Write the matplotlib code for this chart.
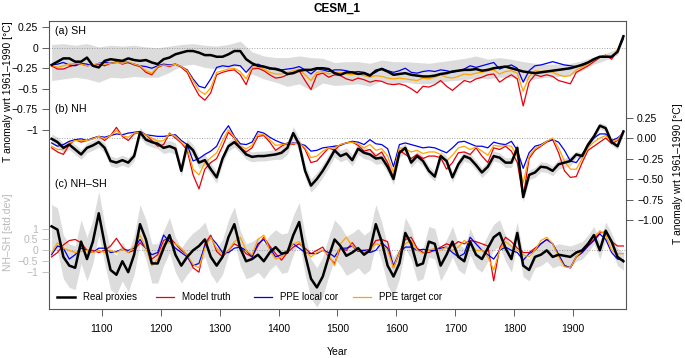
"""CESM_1: SH, NH and NH-SH temperature reconstructions"""
import numpy as np
import matplotlib
matplotlib.use('Agg')
import matplotlib.pyplot as plt
from matplotlib.lines import Line2D

plt.rcParams['font.family'] = ['Liberation Sans', 'DejaVu Sans']
plt.rcParams['font.size'] = 7.5

W, H = 685, 358

# ---- data, decadal points 1015..1985 ----
years = np.arange(1015, 1990, 10)

sh_real = [-0.21, -0.17, -0.13, -0.13, -0.17, -0.17, -0.12, -0.22, -0.24, -0.16,
           -0.14, -0.15, -0.16, -0.13, -0.15, -0.16, -0.15, -0.18, -0.20, -0.14,
           -0.12, -0.08, -0.06, -0.04, -0.04, -0.06, -0.09, -0.09, -0.11, -0.11,
           -0.08, -0.04, -0.04, -0.14, -0.19, -0.22, -0.23, -0.25, -0.26, -0.28,
           -0.32, -0.31, -0.28, -0.27, -0.27, -0.25, -0.25, -0.26, -0.31,
           -0.33, -0.30, -0.30, -0.32, -0.31, -0.34, -0.28, -0.26, -0.29, -0.33,
           -0.32, -0.31, -0.33, -0.34, -0.35, -0.35, -0.34, -0.32, -0.31, -0.29,
           -0.28, -0.27, -0.27, -0.26, -0.28, -0.27, -0.25, -0.24, -0.23, -0.25,
           -0.27, -0.29, -0.30, -0.31, -0.30, -0.29, -0.28, -0.27, -0.26, -0.25,
           -0.23, -0.21, -0.18, -0.14, -0.11, -0.11, -0.11, -0.05, 0.14]
sh_truth = [-0.22, -0.26, -0.26, -0.23, -0.21, -0.20, -0.22, -0.21, -0.20, -0.22,
            -0.19, -0.17, -0.20, -0.18, -0.21, -0.23, -0.30, -0.33, -0.24, -0.21,
            -0.23, -0.20, -0.24, -0.30, -0.45, -0.58, -0.64, -0.55, -0.33, -0.30,
            -0.28, -0.27, -0.33, -0.45, -0.26, -0.25, -0.28, -0.33, -0.37, -0.36,
            -0.33, -0.30, -0.28, -0.40, -0.51, -0.33, -0.31, -0.36, -0.33,
            -0.34, -0.38, -0.40, -0.37, -0.39, -0.42, -0.40, -0.41, -0.44, -0.45,
            -0.44, -0.46, -0.50, -0.55, -0.47, -0.48, -0.45, -0.40, -0.47, -0.52,
            -0.46, -0.40, -0.42, -0.38, -0.36, -0.33, -0.32, -0.42, -0.37, -0.33,
            -0.38, -0.71, -0.42, -0.33, -0.35, -0.33, -0.35, -0.40, -0.42, -0.44,
            -0.30, -0.26, -0.22, -0.17, -0.12, -0.09, -0.14, -0.03, 0.12]
sh_local = [-0.21, -0.20, -0.18, -0.21, -0.22, -0.19, -0.20, -0.22, -0.19, -0.18,
            -0.19, -0.18, -0.17, -0.18, -0.20, -0.22, -0.23, -0.25, -0.22, -0.20,
            -0.21, -0.20, -0.23, -0.27, -0.38, -0.47, -0.49, -0.38, -0.24, -0.22,
            -0.23, -0.21, -0.22, -0.30, -0.22, -0.20, -0.23, -0.26, -0.25, -0.27,
            -0.26, -0.25, -0.23, -0.27, -0.32, -0.26, -0.27, -0.29, -0.27,
            -0.27, -0.28, -0.30, -0.29, -0.30, -0.33, -0.30, -0.25, -0.28, -0.30,
            -0.28, -0.25, -0.30, -0.31, -0.29, -0.28, -0.29, -0.27, -0.28, -0.30,
            -0.28, -0.26, -0.22, -0.24, -0.22, -0.20, -0.18, -0.26, -0.23, -0.21,
            -0.25, -0.42, -0.28, -0.22, -0.21, -0.19, -0.17, -0.19, -0.21, -0.22,
            -0.23, -0.20, -0.18, -0.15, -0.11, -0.10, -0.12, -0.04, 0.11]
sh_target = [-0.21, -0.24, -0.22, -0.20, -0.19, -0.20, -0.22, -0.21, -0.19, -0.20,
             -0.19, -0.18, -0.19, -0.17, -0.20, -0.22, -0.28, -0.31, -0.23, -0.21,
             -0.22, -0.20, -0.23, -0.28, -0.40, -0.52, -0.57, -0.49, -0.30, -0.28,
             -0.26, -0.25, -0.29, -0.38, -0.24, -0.23, -0.26, -0.30, -0.32, -0.32,
             -0.30, -0.28, -0.26, -0.33, -0.40, -0.30, -0.29, -0.32, -0.30,
             -0.30, -0.32, -0.33, -0.32, -0.34, -0.36, -0.34, -0.35, -0.37, -0.38,
             -0.37, -0.38, -0.39, -0.40, -0.37, -0.38, -0.36, -0.33, -0.36, -0.37,
             -0.35, -0.32, -0.33, -0.31, -0.30, -0.28, -0.27, -0.32, -0.29, -0.28,
             -0.31, -0.53, -0.35, -0.28, -0.29, -0.28, -0.30, -0.33, -0.35, -0.34,
             -0.27, -0.24, -0.20, -0.15, -0.12, -0.09, -0.12, -0.02, 0.12]

sh_band_years = [1015, 1035, 1055, 1075, 1095, 1115, 1135, 1155, 1175, 1195,
                 1215, 1235, 1255, 1275, 1295, 1315, 1335, 1355, 1375, 1395,
                 1415, 1435, 1455, 1475, 1495, 1515, 1535, 1555, 1575, 1595,
                 1615, 1635, 1655, 1675, 1695, 1715, 1735, 1755, 1775, 1795,
                 1815, 1835, 1855, 1875, 1895, 1915, 1935, 1955, 1975, 1985]
sh_band_hi = [0.04, 0.05, 0.03, 0.05, 0.01, 0.03, 0.02, 0.03, 0.01, 0.00,
              0.02, 0.04, 0.05, 0.03, 0.02, 0.04, 0.08, -0.05, -0.10, -0.12,
              -0.12, -0.10, -0.12, -0.13, -0.18, -0.17, -0.17, -0.19, -0.15, -0.17,
              -0.17, -0.18, -0.19, -0.17, -0.15, -0.13, -0.10, -0.14, -0.12, -0.14,
              -0.17, -0.19, -0.20, -0.20, -0.19, -0.16, -0.11, -0.07, -0.01, 0.15]
sh_band_lo = [-0.40, -0.38, -0.36, -0.38, -0.42, -0.36, -0.37, -0.35, -0.36, -0.36,
              -0.30, -0.22, -0.20, -0.24, -0.26, -0.24, -0.22, -0.32, -0.38, -0.42,
              -0.47, -0.44, -0.52, -0.43, -0.46, -0.45, -0.44, -0.47, -0.40, -0.44,
              -0.42, -0.44, -0.44, -0.42, -0.40, -0.39, -0.37, -0.38, -0.36, -0.36,
              -0.40, -0.38, -0.36, -0.35, -0.33, -0.28, -0.20, -0.15, -0.09, 0.10]

nh_real = [-0.01, -0.05, -0.12, -0.08, -0.14, -0.20, -0.12, -0.09, -0.05, -0.12,
           -0.28, -0.30, -0.27, -0.30, -0.22, 0.07, -0.02, -0.05, -0.07, -0.12,
           -0.10, -0.13, -0.40, -0.08, -0.15, -0.30, -0.27, -0.38, -0.48, -0.25,
           -0.10, -0.05, -0.12, -0.20, -0.23, -0.22, -0.22, -0.21, -0.20, -0.18,
           -0.12, 0.06, -0.08, -0.40, -0.58, -0.50, -0.40, -0.28, -0.15,
           -0.22, -0.19, -0.27, -0.13, -0.18, -0.20, -0.25, -0.24, -0.35, -0.50,
           -0.18, -0.12, -0.30, -0.22, -0.28, -0.40, -0.47, -0.22, -0.28, -0.48,
           -0.32, -0.22, -0.25, -0.33, -0.42, -0.35, -0.22, -0.24, -0.30, -0.30,
           -0.12, -0.72, -0.45, -0.42, -0.35, -0.36, -0.40, -0.32, -0.30, -0.28,
           -0.20, -0.22, -0.08, 0.02, 0.15, 0.12, -0.05, -0.10, 0.08]
nh_truth = [-0.12, -0.17, -0.20, -0.08, -0.02, -0.05, -0.03, -0.01, 0.02, -0.03,
            0.03, 0.13, 0.02, -0.03, 0.05, 0.07, 0.04, -0.03, -0.10, -0.08,
            0.06, 0.00, -0.06, -0.15, -0.45, -0.62, -0.38, -0.30, -0.25, -0.10,
            0.07, 0.00, -0.12, -0.17, -0.12, 0.02, 0.03, -0.05, -0.15, -0.10,
            -0.06, -0.08, -0.05, -0.14, -0.30, -0.28, -0.20, -0.12, -0.15,
            -0.08, -0.06, -0.05, -0.09, -0.16, -0.14, -0.22, -0.17, -0.30, -0.48,
            -0.15, -0.20, -0.25, -0.20, -0.25, -0.22, -0.22, -0.24, -0.38, -0.30,
            -0.18, -0.17, -0.20, -0.12, -0.22, -0.30, -0.12, -0.14, -0.10, -0.16,
            -0.30, -0.72, -0.25, -0.15, -0.10, -0.05, -0.02, -0.18, -0.40, -0.48,
            -0.47, -0.30, -0.15, -0.10, -0.05, 0.00, -0.07, -0.03, 0.08]
nh_local = [-0.06, -0.10, -0.08, -0.04, -0.02, -0.01, -0.03, 0.00, 0.02, 0.01,
            0.03, 0.05, 0.04, 0.06, 0.07, 0.08, 0.04, 0.03, 0.02, 0.02,
            0.03, 0.04, -0.03, -0.08, -0.28, -0.25, -0.20, -0.16, -0.10, 0.05,
            0.15, 0.02, -0.07, -0.08, -0.05, 0.08, 0.06, 0.01, -0.03, -0.06,
            -0.08, -0.06, -0.07, -0.09, -0.16, -0.15, -0.12, -0.11, -0.10,
            -0.09, -0.06, -0.04, -0.05, -0.08, -0.02, -0.07, -0.08, -0.13, -0.35,
            -0.08, -0.06, -0.08, -0.10, -0.12, -0.11, -0.12, -0.15, -0.18, -0.12,
            -0.05, -0.04, -0.07, -0.10, -0.10, -0.12, -0.05, -0.07, -0.08, -0.04,
            -0.15, -0.37, -0.18, -0.10, -0.08, -0.04, -0.02, -0.05, -0.15, -0.28,
            -0.30, -0.20, -0.10, 0.00, 0.05, 0.05, -0.03, 0.00, 0.06]
nh_target = [-0.10, -0.14, -0.14, -0.06, -0.03, -0.03, -0.03, -0.01, 0.02, -0.01,
             0.03, 0.09, 0.03, 0.01, 0.06, 0.07, 0.04, 0.00, -0.04, -0.03,
             0.05, 0.02, -0.05, -0.12, -0.38, -0.45, -0.30, -0.24, -0.18, -0.03,
             0.10, 0.01, -0.10, -0.13, -0.09, 0.05, 0.04, -0.02, -0.09, -0.08,
             -0.07, -0.07, -0.06, -0.12, -0.24, -0.22, -0.16, -0.12, -0.12,
             -0.08, -0.06, -0.05, -0.07, -0.12, -0.08, -0.15, -0.13, -0.22, -0.42,
             -0.12, -0.13, -0.17, -0.15, -0.19, -0.17, -0.17, -0.20, -0.28, -0.21,
             -0.12, -0.10, -0.14, -0.11, -0.16, -0.21, -0.09, -0.10, -0.09, -0.10,
             -0.22, -0.55, -0.22, -0.13, -0.09, -0.04, 0.00, -0.12, -0.28, -0.38,
             -0.38, -0.25, -0.12, -0.05, 0.00, 0.03, -0.05, -0.02, 0.07]
# half-width of the grey band around the real-proxy NH curve, per century 1000s..1900s
nh_band_hw = [0.06, 0.06, 0.07, 0.06, 0.08, 0.07, 0.06, 0.06, 0.06, 0.04]

d_real = [1.10, 0.95, -0.30, -0.70, -0.80, 0.40, -0.40, 0.40, 1.70, 0.30,
          -0.90, -1.12, -0.50, -1.00, -0.20, 1.20, 0.50, -0.60, -0.60, 0.10,
          0.70, -0.20, -0.70, -0.30, 0.00, 0.20, 0.50, -0.30, -0.70, -0.30,
          0.60, 1.20, 0.10, -0.50, -0.40, -0.20, -0.50, -0.10, 0.15, -0.15,
          -0.10, 0.70, 1.30, -0.20, -1.30, -1.70, -1.20, -0.30, 0.50,
          0.20, -0.25, -0.10, 0.10, -0.20, 0.00, 1.20, 0.40, -0.70, -1.20,
          -0.60, 0.80, 0.30, -0.70, -0.60, 0.40, 0.30, -0.70, -0.20, 0.40,
          -0.30, -0.50, 0.40, -0.20, -0.40, 0.10, 0.60, 0.80, 0.10, -0.40,
          0.80, -0.70, -0.90, -0.30, -0.20, 0.00, -0.30, -0.20, -0.25, -0.30,
          -0.10, 0.00, 0.30, 0.70, 0.00, 0.90, 0.40, -0.30, -0.50]
d_truth = [-0.30, -0.10, 0.25, 0.45, 0.50, 0.35, 0.00, 0.00, -0.10, 0.00,
           0.20, 0.55, 0.15, -0.10, 0.00, 0.35, 0.10, -0.40, -0.20, 0.45,
           0.60, 0.30, 0.00, -0.20, -0.80, -1.00, 0.30, 0.70, -0.05, -0.30,
           0.00, 0.30, 0.15, -0.15, -0.30, 0.20, 0.60, 0.20, -0.15, -0.45,
           -0.10, 0.15, 0.30, 0.10, -0.15, 0.00, 0.15, -0.30, -0.60,
           0.10, 0.00, 0.35, 0.00, 0.00, 0.05, 0.45, 0.50, 0.40, -0.80,
           -0.10, 0.50, 0.60, 0.10, -0.10, -0.10, 0.00, 0.15, 0.30, 0.20,
           0.40, 0.30, 0.45, 0.40, 0.30, 0.20, -1.40, 0.10, 0.60, 0.40,
           0.10, -0.10, -0.10, 0.10, 0.30, 0.50, 0.30, -0.20, -0.70, -0.80,
           -0.30, -0.10, 0.20, 0.50, 0.80, 0.85, 0.40, 0.20, 0.20]
d_local = [-0.20, 0.20, 0.10, -0.40, -0.20, 0.10, 0.00, -0.10, 0.10, 0.10,
           -0.10, -0.05, 0.05, 0.00, 0.10, 0.50, 0.10, -0.20, -0.10, 0.70,
           0.40, 0.10, -0.10, -0.30, -0.70, -0.60, 0.20, 0.60, 0.30, -0.10,
           -0.10, 0.10, 0.15, 0.00, -0.30, 0.30, 0.50, 0.10, -0.30, -0.20,
           0.00, 0.30, 0.10, -0.10, -0.15, -0.15, 0.00, -0.10, -0.30,
           0.10, 0.10, 0.20, -0.05, 0.00, -0.10, 0.00, 0.35, 0.10, -0.70,
           -0.10, 0.15, 0.15, 0.00, 0.05, 0.00, 0.00, 0.10, 0.15, -0.10,
           -0.30, -0.15, 0.60, 0.30, 0.00, -0.20, -0.40, 0.00, 0.15, 0.00,
           -0.10, -0.45, -0.15, 0.00, 0.30, 0.50, 0.30, -0.20, -0.70, -0.80,
           -0.30, -0.10, 0.20, 0.45, 0.75, 0.50, -0.10, -0.40, -0.45]
d_target = [-0.10, 0.35, 0.10, 0.00, -0.10, -0.05, 0.00, -0.10, 0.00, -0.10,
            0.00, -0.10, 0.05, -0.10, 0.20, 0.70, 0.10, -0.70, -0.40, 0.30,
            0.35, 0.30, 0.10, -0.20, -0.65, -0.80, 0.10, 0.60, 0.10, -0.20,
            0.00, 0.40, 0.60, 0.00, -0.20, 0.50, 0.70, 0.00, -0.40, -0.30,
            0.00, 0.30, 0.40, 0.00, -0.30, -0.10, 0.00, -0.20, -0.70,
            0.30, 0.60, 0.20, 0.00, -0.10, 0.00, 0.30, 0.25, 0.00, -0.80,
            -0.10, 0.30, 0.45, 0.00, -0.15, 0.00, 0.10, 0.00, 0.15, 0.00,
            0.15, 0.45, 0.30, 0.00, 0.00, -0.30, -0.90, 0.00, 0.40, 0.20,
            0.00, -0.20, -0.30, 0.00, 0.45, 0.60, 0.30, -0.30, -0.75, -0.80,
            -0.30, 0.00, 0.30, 0.60, 0.90, 0.70, 0.00, -0.15, -0.15]
# half-width of the grey band around the real-proxy NH-SH curve, per century
d_band_hw = [1.0, 0.9, 0.8, 0.8, 0.9, 0.9, 0.7, 0.6, 0.5, 0.4]

century = (years - 1000) // 100

# ---- layout helpers (pixel positions in a 685x358 canvas) ----
def fx(x):
    return x / W

def fy(y):
    return 1 - y / H

fig = plt.figure(figsize=(W / 100, H / 100), dpi=100)
rect = [fx(49), fy(309), 577 / W, 288 / H]
XLIM = (1010.6, 1989.4)

band_col = '#DCDCDC'
cols = {'truth': '#E8000B', 'local': '#0000F0', 'target': '#FFA500', 'real': 'black'}
box_col = '#555555'
grey_txt = '#B8B8B8'
LW_THIN, LW_BOLD = 0.9, 1.8

# SH panel on the main axes
ax = fig.add_axes(rect)
ax.set_xlim(*XLIM)
ax.set_ylim(-3.186, 0.326)
ax.fill_between(sh_band_years, sh_band_lo, sh_band_hi, color=band_col, lw=0)
ax.axhline(0, color='#888888', lw=0.6, ls=(0, (1, 2)))
ax.plot(years, sh_truth, color=cols['truth'], lw=LW_THIN)
ax.plot(years, sh_local, color=cols['local'], lw=LW_THIN)
ax.plot(years, sh_target, color=cols['target'], lw=LW_THIN)
ax.plot(years, sh_real, color=cols['real'], lw=LW_BOLD)

ax.set_yticks([0.25, 0, -0.25, -0.5, -0.75, -1])
ax.set_yticklabels(['0.25', '0', '\u22120.25', '\u22120.5', '\u22120.75', '\u22121'])
ax.set_xticks(range(1100, 2000, 100))
ax.tick_params(axis='both', direction='out', length=5, width=0.6, color='#444444',
               labelsize=7.5, pad=3)
ax.tick_params(axis='x', pad=6)
for s in ax.spines.values():
    s.set_color(box_col)
    s.set_linewidth(0.8)

# NH panel on a right-hand twin axis
ax_nh = ax.twinx()
ax_nh.set_ylim(-2.085, 1.427)
nh_arr = np.array(nh_real)
hw = np.array(nh_band_hw)[century]
ax_nh.fill_between(years, nh_arr - hw, nh_arr + hw, color=band_col, lw=0)
ax_nh.axhline(0, color='#888888', lw=0.6, ls=(0, (1, 2)))
ax_nh.plot(years, nh_truth, color=cols['truth'], lw=LW_THIN)
ax_nh.plot(years, nh_local, color=cols['local'], lw=LW_THIN)
ax_nh.plot(years, nh_target, color=cols['target'], lw=LW_THIN)
ax_nh.plot(years, nh_real, color=cols['real'], lw=LW_BOLD)
ax_nh.set_yticks([0.25, 0, -0.25, -0.5, -0.75, -1])
ax_nh.set_yticklabels(['0.25', '0.00', '\u22120.25', '\u22120.50', '\u22120.75', '\u22121.00'])
ax_nh.tick_params(axis='y', direction='out', length=5, width=0.6, color='#444444',
                  labelsize=7.5, pad=3)
for s in ax_nh.spines.values():
    s.set_visible(False)

# NH-SH panel on a third overlaid axis (grey left scale)
ax_d = fig.add_axes(rect, frameon=False)
ax_d.patch.set_alpha(0)
ax_d.set_xlim(*XLIM)
ax_d.set_ylim(-2.69, 10.52)
d_arr = np.array(d_real)
dhw = np.array(d_band_hw)[century]
ax_d.fill_between(years, d_arr - dhw, d_arr + dhw, color=band_col, lw=0, zorder=0)
ax_d.axhline(0, color='#888888', lw=0.6, ls=(0, (1, 2)))
ax_d.plot(years, d_truth, color=cols['truth'], lw=LW_THIN)
ax_d.plot(years, d_local, color=cols['local'], lw=LW_THIN)
ax_d.plot(years, d_target, color=cols['target'], lw=LW_THIN)
ax_d.plot(years, d_real, color=cols['real'], lw=LW_BOLD)
ax_d.set_xticks([])
ax_d.set_yticks([1, 0.5, 0, -0.5, -1])
ax_d.set_yticklabels(['1', '0.5', '0', '\u22120.5', '\u22121'])
ax_d.tick_params(axis='y', direction='out', length=5, width=0.6, color=grey_txt,
                 labelcolor=grey_txt, labelsize=7.5, pad=3)

# ---- texts ----
fig.text(fx(337.5), fy(9), 'CESM_1', ha='center', va='center', fontsize=8.5, fontweight='bold')
fig.text(fx(337.5), fy(352), 'Year', ha='center', va='center', fontsize=7.5)
fig.text(fx(8), fy(92), 'T anomaly wrt 1961\u20131990 [\u00b0C]', rotation=90,
         ha='center', va='center', fontsize=7.5)
fig.text(fx(678), fy(174), 'T anomaly wrt 1961\u20131990 [\u00b0C]', rotation=90,
         ha='center', va='center', fontsize=7.5)
fig.text(fx(8), fy(232), 'NH\u2013SH [std.dev]', rotation=90, ha='center', va='center',
         fontsize=7.5, color=grey_txt)
fig.text(fx(55), fy(31), '(a) SH', ha='left', va='center', fontsize=7.7)
fig.text(fx(55), fy(109), '(b) NH', ha='left', va='center', fontsize=7.7)
fig.text(fx(55), fy(184), '(c) NH\u2013SH', ha='left', va='center', fontsize=7.7)

# ---- legend row inside the box ----
legend_items = [('Real proxies', cols['real'], LW_BOLD),
                ('Model truth', cols['truth'], LW_THIN),
                ('PPE local cor', cols['local'], LW_THIN),
                ('PPE target cor', cols['target'], LW_THIN)]
for i, (lab, c, lw) in enumerate(legend_items):
    x0 = 57 + i * 98.7
    fig.lines.append(Line2D([fx(x0), fx(x0 + 18)], [fy(297), fy(297)],
                            transform=fig.transFigure, color=c, lw=lw))
    fig.text(fx(x0 + 26), fy(297), lab, ha='left', va='center', fontsize=7)

plt.savefig('out.png', dpi=100)
plt.close()
